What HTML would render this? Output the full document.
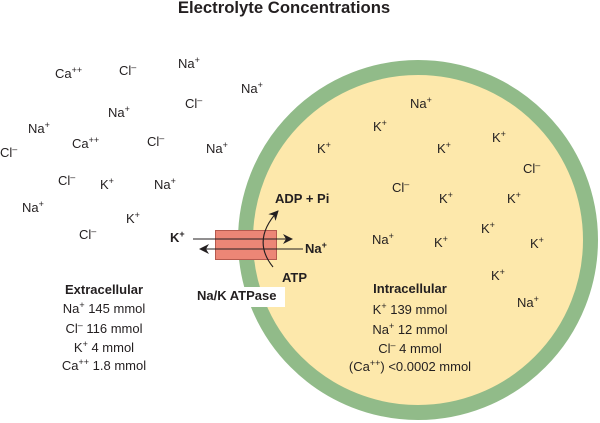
<!DOCTYPE html>
<html><head><meta charset="utf-8"><style>
html,body{margin:0;padding:0;background:#fff;}
svg{display:block;}
text{font-family:"Liberation Sans",Arial,sans-serif;fill:#231f20;font-size:13px;}
.b{font-weight:bold;}
</style></head><body>
<svg width="600" height="423" viewBox="0 0 600 423" xmlns="http://www.w3.org/2000/svg">
<defs>
<marker id="ah" viewBox="0 0 10 10" refX="9" refY="5" markerWidth="10" markerHeight="10" markerUnits="userSpaceOnUse" orient="auto">
<path d="M0,0 L10,5 L0,10 L3,5 Z" fill="#231f20"/>
</marker>
</defs>
<text x="284" y="13" text-anchor="middle" class="b" style="font-size:16.7px">Electrolyte Concentrations</text>

<!-- cell -->
<circle cx="418" cy="240" r="172.5" fill="#fde8ab" stroke="#91bb89" stroke-width="15"/>

<!-- extracellular ions -->
<text x="55" y="78">Ca<tspan dy="-5" font-size="9">++</tspan></text>
<text x="119" y="75">Cl<tspan dy="-5" font-size="9">–</tspan></text>
<text x="178" y="68">Na<tspan dy="-5" font-size="9">+</tspan></text>
<text x="241" y="93">Na<tspan dy="-5" font-size="9">+</tspan></text>
<text x="108" y="117">Na<tspan dy="-5" font-size="9">+</tspan></text>
<text x="185" y="108">Cl<tspan dy="-5" font-size="9">–</tspan></text>
<text x="28" y="133">Na<tspan dy="-5" font-size="9">+</tspan></text>
<text x="72" y="148">Ca<tspan dy="-5" font-size="9">++</tspan></text>
<text x="147" y="146">Cl<tspan dy="-5" font-size="9">–</tspan></text>
<text x="206" y="153">Na<tspan dy="-5" font-size="9">+</tspan></text>
<text x="0" y="157">Cl<tspan dy="-5" font-size="9">–</tspan></text>
<text x="58" y="185">Cl<tspan dy="-5" font-size="9">–</tspan></text>
<text x="100" y="189">K<tspan dy="-5" font-size="9">+</tspan></text>
<text x="154" y="189">Na<tspan dy="-5" font-size="9">+</tspan></text>
<text x="22" y="212">Na<tspan dy="-5" font-size="9">+</tspan></text>
<text x="126" y="223">K<tspan dy="-5" font-size="9">+</tspan></text>
<text x="79" y="239">Cl<tspan dy="-5" font-size="9">–</tspan></text>

<!-- intracellular ions -->
<text x="410" y="108">Na<tspan dy="-5" font-size="9">+</tspan></text>
<text x="373" y="131">K<tspan dy="-5" font-size="9">+</tspan></text>
<text x="317" y="153">K<tspan dy="-5" font-size="9">+</tspan></text>
<text x="437" y="153">K<tspan dy="-5" font-size="9">+</tspan></text>
<text x="492" y="142">K<tspan dy="-5" font-size="9">+</tspan></text>
<text x="523" y="173">Cl<tspan dy="-5" font-size="9">–</tspan></text>
<text x="392" y="192">Cl<tspan dy="-5" font-size="9">–</tspan></text>
<text x="439" y="203">K<tspan dy="-5" font-size="9">+</tspan></text>
<text x="507" y="203">K<tspan dy="-5" font-size="9">+</tspan></text>
<text x="481" y="233">K<tspan dy="-5" font-size="9">+</tspan></text>
<text x="372" y="244">Na<tspan dy="-5" font-size="9">+</tspan></text>
<text x="434" y="247">K<tspan dy="-5" font-size="9">+</tspan></text>
<text x="530" y="248">K<tspan dy="-5" font-size="9">+</tspan></text>
<text x="491" y="280">K<tspan dy="-5" font-size="9">+</tspan></text>
<text x="517" y="307">Na<tspan dy="-5" font-size="9">+</tspan></text>

<!-- pump -->
<rect x="215.5" y="230.5" width="61" height="29" fill="#ec8676" stroke="#b55a4e" stroke-width="1"/>
<line x1="193" y1="239" x2="292" y2="239" stroke="#231f20" stroke-width="1.1" marker-end="url(#ah)"/>
<line x1="303" y1="249" x2="200" y2="249" stroke="#231f20" stroke-width="1.1" marker-end="url(#ah)"/>
<path d="M273 267 Q251 240 278 211" fill="none" stroke="#231f20" stroke-width="1.1" marker-end="url(#ah)"/>

<text x="170" y="242" class="b">K<tspan dy="-5" font-size="9">+</tspan></text>
<text x="275" y="203" class="b">ADP + Pi</text>
<text x="305" y="253" class="b">Na<tspan dy="-5" font-size="9">+</tspan></text>
<text x="282" y="282" class="b">ATP</text>

<rect x="189" y="287" width="96" height="20" fill="#fff"/>
<text x="197" y="300" class="b">Na/K ATPase</text>

<!-- extracellular summary -->
<text x="104" y="294" text-anchor="middle" class="b">Extracellular</text>
<text x="104" y="313" text-anchor="middle">Na<tspan dy="-5" font-size="9">+</tspan><tspan dy="5"> 145 mmol</tspan></text>
<text x="104" y="333" text-anchor="middle">Cl<tspan dy="-5" font-size="9">–</tspan><tspan dy="5"> 116 mmol</tspan></text>
<text x="104" y="352" text-anchor="middle">K<tspan dy="-5" font-size="9">+</tspan><tspan dy="5"> 4 mmol</tspan></text>
<text x="104" y="370" text-anchor="middle">Ca<tspan dy="-5" font-size="9">++</tspan><tspan dy="5"> 1.8 mmol</tspan></text>

<!-- intracellular summary -->
<text x="410" y="293" text-anchor="middle" class="b">Intracellular</text>
<text x="410" y="314" text-anchor="middle">K<tspan dy="-5" font-size="9">+</tspan><tspan dy="5"> 139 mmol</tspan></text>
<text x="410" y="334" text-anchor="middle">Na<tspan dy="-5" font-size="9">+</tspan><tspan dy="5"> 12 mmol</tspan></text>
<text x="410" y="353" text-anchor="middle">Cl<tspan dy="-5" font-size="9">–</tspan><tspan dy="5"> 4 mmol</tspan></text>
<text x="410" y="371" text-anchor="middle">(Ca<tspan dy="-5" font-size="9">++</tspan><tspan dy="5">) &lt;0.0002 mmol</tspan></text>
</svg>
</body></html>
